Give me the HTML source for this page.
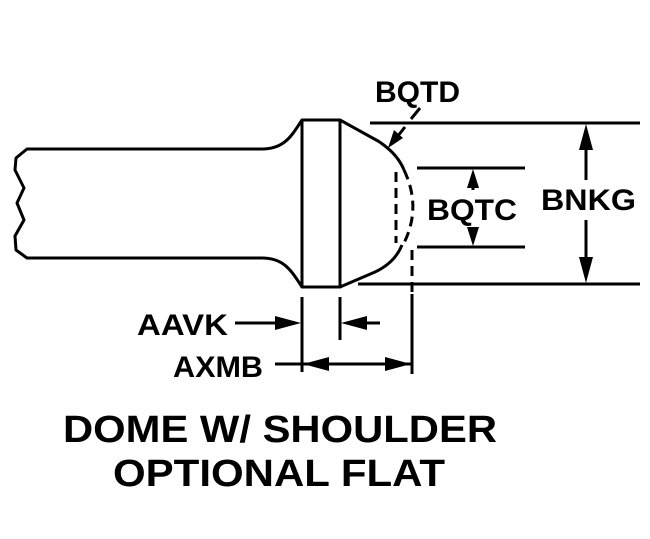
<!DOCTYPE html>
<html><head><style>
html,body{margin:0;padding:0;background:#fff;}
svg{display:block;}
text{font-family:"Liberation Sans",Arial,sans-serif;font-weight:bold;fill:#000;}
</style></head><body>
<svg width="650" height="539" viewBox="0 0 650 539" xmlns="http://www.w3.org/2000/svg">
<g fill="none" stroke="#000" stroke-width="3" stroke-linejoin="round">
<path d="M262,149 L27,149 L16,158 L15,170 L24,188 L17,203 L24,220 L15,236 L16,250 L27,258 L262,258"/>
<path d="M262,149 C285,149 292,135 302,120"/>
<path d="M262,258 C285,258 292,272 302,287"/>
<rect x="302" y="120" width="38" height="167"/>
<path d="M340,120 L378,141 C392,150 400,160 404,170"/>
<path d="M340,287 L375,272 C390,265 398,255 402,245"/>
<path d="M396,172 L396,243" stroke-dasharray="10,6"/>
<path d="M404,170 C416,195 416,220 403,245" stroke-dasharray="10,6"/>
<path d="M412,250 L412,292" stroke-dasharray="10,6"/>
<line x1="370" y1="123" x2="640" y2="123"/>
<line x1="358" y1="284" x2="640" y2="284"/>
<line x1="417" y1="168" x2="525" y2="168"/>
<line x1="417" y1="247" x2="525" y2="247"/>
<line x1="586" y1="140" x2="586" y2="180"/>
<line x1="586" y1="220" x2="586" y2="268"/>
<line x1="473" y1="180" x2="473" y2="190"/>
<line x1="473" y1="228" x2="473" y2="236"/>
<line x1="302" y1="297" x2="302" y2="372"/>
<line x1="340" y1="297" x2="340" y2="340"/>
<line x1="412" y1="294" x2="412" y2="374"/>
<line x1="235" y1="323" x2="280" y2="323"/>
<line x1="360" y1="323" x2="380" y2="323"/>
<line x1="275" y1="364" x2="412" y2="364"/>
<line x1="420" y1="108" x2="411" y2="119"/>
<line x1="405" y1="127" x2="397" y2="137"/>
</g>
<g fill="#000" stroke="none">
<polygon points="586,124 579,150 593,150"/>
<polygon points="586,283 579,257 593,257"/>
<polygon points="473,169 467,188 479,188"/>
<polygon points="473,246 467,227 479,227"/>
<polygon points="301,323 275,316 275,330"/>
<polygon points="341,323 367,316 367,330"/>
<polygon points="303,364 329,357 329,371"/>
<polygon points="411,364 385,357 385,371"/>
<polygon points="388,148 394,130 403,138"/>
</g>
<text x="375" y="102" font-size="30" textLength="85" lengthAdjust="spacingAndGlyphs">BQTD</text>
<text x="427" y="220" font-size="30" textLength="90" lengthAdjust="spacingAndGlyphs">BQTC</text>
<text x="541" y="210" font-size="30" textLength="95" lengthAdjust="spacingAndGlyphs">BNKG</text>
<text x="137" y="335" font-size="30" textLength="91" lengthAdjust="spacingAndGlyphs">AAVK</text>
<text x="173" y="377" font-size="30" textLength="90" lengthAdjust="spacingAndGlyphs">AXMB</text>
<text x="63" y="442" font-size="38" textLength="434" lengthAdjust="spacingAndGlyphs">DOME W/ SHOULDER</text>
<text x="113" y="486" font-size="38" textLength="332" lengthAdjust="spacingAndGlyphs">OPTIONAL FLAT</text>
</svg>
</body></html>
